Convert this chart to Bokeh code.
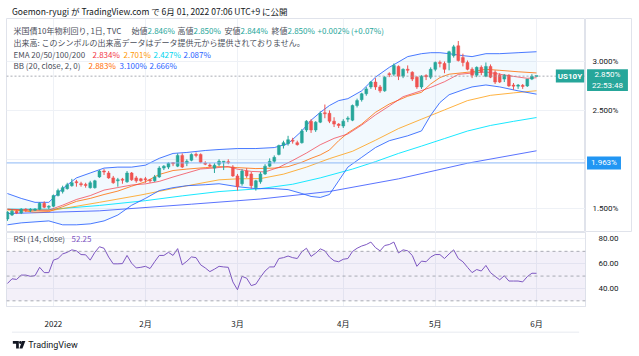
import numpy as np
from bokeh.plotting import figure
from bokeh.layouts import column, row
from bokeh.models import (Range1d, FixedTicker, PrintfTickFormatter, Label, Span,
                          ColumnDataSource, BoxAnnotation)
from bokeh.core.properties import value
from bokeh.embed import file_html
from bokeh.resources import INLINE

# ---------------- data ----------------
bar_index = list(range(116))
opens = [1.39, 1.43, 1.47, 1.45, 1.485, 1.478, 1.48, 1.49, 1.55, 1.51,
         1.52, 1.63, 1.67, 1.70, 1.73, 1.77, 1.75, 1.735, 1.71, 1.71,
         1.82, 1.88, 1.86, 1.81, 1.78, 1.79, 1.77, 1.86, 1.81, 1.80,
         1.80, 1.79, 1.78, 1.82, 1.91, 1.92, 1.96, 1.93, 2.04, 1.96,
         1.99, 2.05, 2.05, 1.96, 1.94, 1.91, 1.95, 1.97, 1.97, 1.92,
         1.83, 1.75, 1.88, 1.85, 1.71, 1.77, 1.85, 1.93, 1.98, 2.05,
         2.14, 2.16, 2.19, 2.17, 2.17, 2.30, 2.39, 2.30, 2.38, 2.47,
         2.47, 2.39, 2.36, 2.34, 2.41, 2.40, 2.55, 2.61, 2.67, 2.74,
         2.79, 2.74, 2.70, 2.87, 2.87, 2.95, 2.85, 2.92, 2.89, 2.84,
         2.74, 2.85, 2.84, 2.92, 2.99, 2.98, 2.99, 3.06, 3.16, 3.04,
         2.99, 2.92, 2.86, 2.94, 2.85, 2.95, 2.89, 2.86, 2.82, 2.86,
         2.752, 2.748, 2.755, 2.75, 2.82, 2.846]
highs = [1.47, 1.49, 1.48, 1.50, 1.50, 1.50, 1.50, 1.56, 1.57, 1.53,
         1.64, 1.70, 1.73, 1.76, 1.80, 1.79, 1.77, 1.76, 1.78, 1.79,
         1.89, 1.90, 1.88, 1.83, 1.81, 1.81, 1.88, 1.87, 1.83, 1.81,
         1.82, 1.80, 1.84, 1.93, 1.94, 1.97, 1.97, 2.06, 2.06, 2.00,
         2.06, 2.07, 2.06, 1.98, 1.96, 1.96, 2.00, 1.98, 2.00, 1.94,
         1.85, 1.90, 1.91, 1.87, 1.79, 1.87, 1.95, 2.01, 2.04, 2.15,
         2.19, 2.24, 2.22, 2.19, 2.31, 2.40, 2.41, 2.39, 2.49, 2.56,
         2.50, 2.43, 2.37, 2.41, 2.44, 2.56, 2.62, 2.68, 2.74, 2.80,
         2.83, 2.76, 2.85, 2.89, 2.98, 2.96, 2.93, 2.96, 2.90, 2.85,
         2.86, 2.87, 2.94, 3.00, 3.01, 3.00, 3.11, 3.17, 3.21, 3.08,
         3.01, 2.94, 2.95, 2.96, 2.99, 2.97, 2.91, 2.88, 2.87, 2.87,
         2.78, 2.77, 2.77, 2.82, 2.87, 2.850]
lows = [1.37, 1.42, 1.44, 1.44, 1.46, 1.46, 1.47, 1.48, 1.50, 1.49,
        1.51, 1.62, 1.65, 1.69, 1.72, 1.72, 1.72, 1.71, 1.70, 1.70,
        1.81, 1.84, 1.80, 1.75, 1.72, 1.75, 1.76, 1.78, 1.76, 1.77,
        1.76, 1.76, 1.77, 1.81, 1.89, 1.90, 1.93, 1.92, 1.91, 1.93,
        1.98, 2.02, 1.96, 1.94, 1.92, 1.86, 1.93, 1.89, 1.95, 1.82,
        1.68, 1.73, 1.81, 1.70, 1.68, 1.75, 1.84, 1.92, 1.96, 2.04,
        2.11, 2.14, 2.16, 2.14, 2.16, 2.28, 2.27, 2.28, 2.37, 2.42,
        2.37, 2.33, 2.32, 2.32, 2.38, 2.39, 2.53, 2.59, 2.65, 2.72,
        2.71, 2.68, 2.69, 2.84, 2.85, 2.81, 2.83, 2.88, 2.80, 2.72,
        2.72, 2.81, 2.82, 2.90, 2.94, 2.88, 2.91, 3.04, 3.00, 2.95,
        2.91, 2.83, 2.84, 2.86, 2.84, 2.83, 2.77, 2.78, 2.79, 2.74,
        2.71, 2.72, 2.72, 2.74, 2.81, 2.844]
closes = [1.46, 1.47, 1.45, 1.49, 1.478, 1.482, 1.49, 1.55, 1.51, 1.52,
          1.63, 1.68, 1.71, 1.74, 1.76, 1.76, 1.74, 1.732, 1.76, 1.78,
          1.88, 1.87, 1.81, 1.76, 1.79, 1.786, 1.86, 1.79, 1.78, 1.78,
          1.79, 1.78, 1.82, 1.91, 1.93, 1.96, 1.955, 2.04, 1.92, 1.98,
          2.05, 2.04, 1.97, 1.95, 1.93, 1.94, 1.98, 1.975, 1.965, 1.83,
          1.72, 1.88, 1.83, 1.73, 1.78, 1.85, 1.93, 1.98, 2.02, 2.14,
          2.17, 2.20, 2.185, 2.15, 2.29, 2.39, 2.30, 2.38, 2.47, 2.465,
          2.39, 2.36, 2.345, 2.39, 2.42, 2.55, 2.60, 2.67, 2.72, 2.79,
          2.74, 2.70, 2.84, 2.865, 2.96, 2.85, 2.92, 2.91, 2.82, 2.74,
          2.85, 2.845, 2.92, 2.99, 2.98, 2.92, 3.10, 3.15, 3.01, 2.99,
          2.92, 2.86, 2.94, 2.89, 2.95, 2.84, 2.79, 2.79, 2.86, 2.75,
          2.748, 2.752, 2.745, 2.82, 2.848, 2.850]
rsi14 = [44.0, 47.8, 47.3, 50.8, 50.8, 49.8, 50.3, 57.1, 52.8, 52.8,
         62.9, 64.2, 67.9, 69.2, 71.2, 70.4, 67.4, 67.2, 62.9, 69.2,
         73.7, 72.5, 65.4, 59.9, 59.9, 60.1, 66.7, 60.4, 56.6, 57.1,
         57.9, 56.1, 61.6, 66.7, 66.7, 69.2, 66.7, 72.2, 59.1, 62.0,
         65.5, 64.9, 59.1, 56.6, 53.6, 55.6, 57.9, 57.4, 57.1, 45.3,
         39.0, 49.8, 48.3, 42.3, 43.5, 49.1, 54.1, 57.4, 57.4, 64.2,
         64.9, 66.2, 64.9, 64.2, 69.7, 72.5, 65.9, 68.5, 72.0, 70.4,
         65.4, 62.4, 61.6, 63.6, 64.2, 69.9, 72.5, 74.3, 75.5, 77.5,
         73.0, 70.4, 74.7, 75.5, 77.5, 68.7, 71.2, 70.4, 66.7, 57.9,
         62.1, 61.6, 65.4, 67.4, 67.4, 64.2, 67.9, 71.2, 64.2, 61.6,
         57.1, 52.8, 55.3, 54.1, 58.6, 52.8, 49.8, 47.0, 50.3, 46.0,
         46.0, 46.0, 45.3, 49.6, 52.3, 52.25]

bb_idx = [0, 3, 6, 9, 12, 15, 18, 21, 24, 27, 30, 33, 36, 39, 43, 46, 50, 54, 58, 61,
          64, 66, 68, 70, 72, 74, 77, 80, 83, 87, 90, 92, 94, 96, 99, 101, 104, 107, 111, 115]
bb_upper = [1.65, 1.60, 1.56, 1.56, 1.70, 1.81, 1.86, 1.91, 1.92, 1.92, 1.94, 2.01, 2.06, 2.07, 2.09, 2.10, 2.11, 2.11, 2.12, 2.16,
            2.29, 2.40, 2.48, 2.55, 2.60, 2.62, 2.70, 2.84, 2.94, 3.05, 3.08, 3.09, 3.09, 3.08, 3.06, 3.05, 3.08, 3.08, 3.09, 3.100]
bb_lower = [1.33, 1.35, 1.36, 1.37, 1.33, 1.33, 1.34, 1.37, 1.43, 1.53, 1.60, 1.68, 1.71, 1.73, 1.74, 1.75, 1.72, 1.70, 1.70, 1.69,
            1.65, 1.62, 1.61, 1.64, 1.78, 1.92, 2.02, 2.12, 2.19, 2.24, 2.29, 2.45, 2.58, 2.66, 2.71, 2.74, 2.76, 2.74, 2.70, 2.666]
bb_basis = [1.49, 1.475, 1.46, 1.465, 1.515, 1.57, 1.60, 1.64, 1.675, 1.725, 1.77, 1.845, 1.885, 1.90, 1.915, 1.925, 1.915, 1.905, 1.91, 1.925,
            1.97, 2.01, 2.045, 2.095, 2.19, 2.27, 2.36, 2.48, 2.565, 2.645, 2.685, 2.77, 2.835, 2.87, 2.885, 2.895, 2.92, 2.91, 2.895, 2.883]

ema20_idx = [0, 3, 6, 9, 12, 15, 18, 21, 24, 27, 30, 33, 36, 39, 42, 45, 48, 50, 53, 56,
             59, 62, 65, 68, 71, 74, 77, 80, 83, 86, 89, 92, 95, 98, 101, 104, 107, 110, 113, 115]
ema20 = [1.49, 1.485, 1.48, 1.48, 1.531, 1.589, 1.629, 1.685, 1.711, 1.737, 1.749, 1.774, 1.819, 1.860, 1.901, 1.911, 1.927, 1.899, 1.876, 1.871,
         1.918, 1.988, 2.064, 2.149, 2.214, 2.259, 2.350, 2.454, 2.545, 2.640, 2.686, 2.735, 2.793, 2.868, 2.882, 2.893, 2.870, 2.848, 2.828, 2.834]
ema50_idx = [0, 10, 20, 29, 38, 46, 50, 55, 60, 65, 70, 75, 80, 85, 90, 95, 100, 105, 110, 115]
ema50 = [1.48, 1.48, 1.56, 1.635, 1.72, 1.79, 1.80, 1.803, 1.848, 1.92, 2.007, 2.082, 2.195, 2.314, 2.41, 2.505, 2.60, 2.654, 2.679, 2.701]
ema100_idx = [0, 10, 20, 30, 38, 46, 55, 62, 68, 75, 80, 85, 90, 95, 100, 105, 110, 115]
ema100 = [1.49, 1.49, 1.528, 1.577, 1.626, 1.67, 1.70, 1.745, 1.81, 1.90, 1.976, 2.06, 2.135, 2.212, 2.289, 2.346, 2.388, 2.427]
ema200_idx = [0, 20, 40, 55, 70, 85, 100, 115]
ema200 = [1.445, 1.473, 1.541, 1.594, 1.671, 1.80, 1.96, 2.087]

month_ticks = [10, 30, 50, 73, 93, 115]
month_labels = ["2022", "2月", "3月", "4月", "5月", "6月"]
price_ticks = [1.5, 2.0, 2.5, 3.0]
rsi_ticks = [40, 60, 80]
rsi_levels = [30, 50, 70]
marked_level = 1.963
countdown = "22:53:48"
symbol = "US10Y"
change_abs = 0.002
change_pct = 0.07

# ---------------- styles ----------------
JP = "Noto Sans CJK JP"
LAT = "Roboto"
UP = "#26A69A"
DN = "#EF5350"
GRID = "#EEF1F6"
BORDER = "#E0E3EB"
TXT = "#131722"
LEG = "#4A4E59"

has_padding = "padding" in Label.properties()


def base_fig(**kw):
    f = figure(toolbar_location=None, output_backend="svg", **kw)
    f.background_fill_color = "white"
    f.border_fill_color = "white"
    return f


def set_pad(l, h, v):
    if not has_padding:
        return
    for val in (dict(left=h, right=h, top=v, bottom=v), (v, h), max(h, v)):
        try:
            l.padding = val
            return
        except Exception:
            continue


def lab(p, text, x, y, color, font=JP, size="8px", pad=None, units="screen", **kw):
    l = Label(x=x, y=y, x_units=units, y_units=units, text=text,
              text_color=color, text_font=font, text_font_size=size,
              text_baseline="middle", **kw)
    if pad is not None:
        set_pad(l, *pad)
    p.add_layout(l)
    return l


# ---------------- header ----------------
p0 = base_fig(width=639, height=18, x_range=Range1d(0, 639), y_range=Range1d(18, 0),
              x_axis_location=None, y_axis_location=None,
              min_border_left=0, min_border_right=0, min_border_top=0, min_border_bottom=0)
p0.outline_line_color = None
p0.grid.visible = False
p0.text(x=[6], y=[10], text=["Goemon-ryugi が TradingView.com で 6月 01, 2022 07:06 UTC+9 に公開"],
        text_font=value(JP), text_font_size="8.5px", text_color=TXT, text_baseline="middle")

# ---------------- main pane ----------------
xr = Range1d(-0.2, 125.65)
yr = Range1d(1.2515, 3.4397)
p1 = base_fig(width=585, height=214, x_range=xr, y_range=yr,
              x_axis_location=None, y_axis_location=None,
              min_border_left=6, min_border_right=0, min_border_top=0, min_border_bottom=0)
p1.outline_line_color = BORDER
p1.xgrid.ticker = FixedTicker(ticks=month_ticks)
p1.ygrid.ticker = FixedTicker(ticks=price_ticks)
p1.grid.grid_line_color = GRID

p1.varea(x=bb_idx, y1=bb_lower, y2=bb_upper, fill_color="#2196F3", fill_alpha=0.06)
p1.add_layout(Span(location=marked_level, dimension="width", line_color="#8DB9F6", line_width=1))
p1.line(ema200_idx, ema200, line_color="#3D5AFE", line_width=1, line_alpha=0.85)
p1.line(ema100_idx, ema100, line_color="#00E5FF", line_width=1, line_alpha=0.9)
p1.line(ema50_idx, ema50, line_color="#FF9800", line_width=1, line_alpha=0.75)
p1.line(bb_idx, bb_upper, line_color="#2962FF", line_width=1, line_alpha=0.85)
p1.line(bb_idx, bb_lower, line_color="#2962FF", line_width=1, line_alpha=0.85)
p1.line(bb_idx, bb_basis, line_color="#FF6D00", line_width=1, line_alpha=0.8)
p1.line(ema20_idx, ema20, line_color="#F23645", line_width=1, line_alpha=0.7)
p1.add_layout(Span(location=closes[-1], dimension="width", line_color="#9598A1",
                   line_width=1, line_dash="2 2", line_alpha=0.8))

o = np.array(opens)
c = np.array(closes)
colors = np.where(c >= o, UP, DN)
top = np.maximum(o, c)
bot = np.minimum(o, c)
top = np.where(top - bot < 0.011, bot + 0.011, top)
src = ColumnDataSource(dict(x=bar_index, top=top, bottom=bot, high=highs, low=lows, color=colors))
p1.segment(x0="x", y0="low", x1="x", y1="high", line_color="color", line_width=1, source=src)
p1.vbar(x="x", width=0.62, top="top", bottom="bottom", fill_color="color",
        line_color="color", line_width=0.5, source=src)


def p1lab(text, X, Y, color, **kw):
    return lab(p1, text, X - 6, 232 - Y, color, **kw)


p1lab("米国債10年物利回り, 1日, TVC", 13, 29.5, LEG)
p1lab("始値", 131, 29.5, LEG)
p1lab(f"{opens[-1]:.3f}%", 147, 29.5, UP)
p1lab("高値", 177, 29.5, LEG)
p1lab(f"{highs[-1]:.3f}%", 193, 29.5, UP)
p1lab("安値", 224, 29.5, LEG)
p1lab(f"{lows[-1]:.3f}%", 240, 29.5, UP)
p1lab("終値", 271, 29.5, LEG)
p1lab(f"{closes[-1]:.3f}%", 287, 29.5, UP)
p1lab(f"+{change_abs:.3f}% (+{change_pct:.2f}%)", 317, 29.5, UP)
p1lab("出来高: このシンボルの出来高データはデータ提供元から提供されておりません。", 13, 42, LEG)
p1lab("EMA 20/50/100/200", 13, 53.5, LEG)
p1lab(f"{ema20[-1]:.3f}%", 92, 53.5, "#F23645")
p1lab(f"{ema50[-1]:.3f}%", 123, 53.5, "#FF9800")
p1lab(f"{ema100[-1]:.3f}%", 153, 53.5, "#00D5EF")
p1lab(f"{ema200[-1]:.3f}%", 183, 53.5, "#2962FF")
p1lab("BB (20, close, 2, 0)", 13, 65, LEG)
p1lab(f"{bb_basis[-1]:.3f}%", 88, 65, "#FF6D00")
p1lab(f"{bb_upper[-1]:.3f}%", 119, 65, "#2962FF")
p1lab(f"{bb_lower[-1]:.3f}%", 149, 65, "#2962FF")
p1lab(symbol, 569.5, 75.5, "white", font=LAT, size="8px", text_align="center",
      text_font_style="bold", background_fill_color=UP, background_fill_alpha=1.0, pad=(2, 2))

# ---------------- price scale (right of the main pane) ----------------
p1b = base_fig(width=47, height=214, x_range=Range1d(0, 47), y_range=yr,
               x_axis_location=None, y_axis_location=None,
               min_border_left=0, min_border_right=0, min_border_top=0, min_border_bottom=0)
p1b.outline_line_color = BORDER
p1b.grid.visible = False
p1b.text(x=[7] * len(price_ticks), y=price_ticks, text=[f"{t:.3f}%" for t in price_ticks],
         text_font=value(LAT), text_font_size="8px", text_color=TXT, text_baseline="middle")
lab(p1b, f"{closes[-1]:.3f}%\n{countdown}", 22, closes[-1], "white", font=LAT, size="8px",
    units="data", y_offset=-4, text_align="center", background_fill_color=UP,
    background_fill_alpha=1.0, pad=(5, 1))
lab(p1b, f"{marked_level:.3f}%", 18.5, marked_level, "white", font=LAT, size="8px",
    units="data", text_align="center", background_fill_color="#2196F3",
    background_fill_alpha=1.0, pad=(4, 2))

# ---------------- RSI pane ----------------
p2 = base_fig(width=639, height=99, x_range=xr, y_range=Range1d(25.42, 85.23),
              y_axis_location="right", x_axis_location="below",
              min_border_left=6, min_border_right=54, min_border_top=0, min_border_bottom=19)
p2.outline_line_color = BORDER
p2.xgrid.ticker = FixedTicker(ticks=month_ticks)
p2.ygrid.ticker = FixedTicker(ticks=rsi_ticks)
p2.grid.grid_line_color = GRID
ry = p2.yaxis[0]
ry.ticker = FixedTicker(ticks=rsi_ticks)
ry.formatter = PrintfTickFormatter(format="%.2f")
ry.major_label_text_font = LAT
ry.major_label_text_font_size = "8px"
ry.major_label_text_color = TXT
ry.major_tick_line_color = None
ry.minor_tick_line_color = None
ry.axis_line_color = BORDER
ry.major_label_standoff = 7
rx = p2.xaxis[0]
rx.ticker = FixedTicker(ticks=month_ticks)
rx.major_label_overrides = {t: s for t, s in zip(month_ticks, month_labels)}
rx.major_label_text_font = JP
rx.major_label_text_font_size = "8px"
rx.major_label_text_color = TXT
rx.major_tick_line_color = None
rx.minor_tick_line_color = None
rx.axis_line_color = BORDER
rx.major_label_standoff = 5

p2.add_layout(BoxAnnotation(bottom=rsi_levels[0], top=rsi_levels[-1], fill_color="#7E57C2",
                            fill_alpha=0.09, line_color=None))
for lv in rsi_levels:
    p2.add_layout(Span(location=lv, dimension="width", line_color="#9598A1",
                       line_width=1, line_dash="3 3", line_alpha=0.8))
p2.line(bar_index, rsi14, line_color="#7E57C2", line_width=1)
lab(p2, "RSI (14, close)", 13 - 6, 312 - 244, LEG)
lab(p2, f"{rsi14[-1]:.2f}", 71 - 6, 312 - 244, "#7E57C2")

# ---------------- footer ----------------
p3 = base_fig(width=639, height=25, x_range=Range1d(0, 639), y_range=Range1d(25, 0),
              x_axis_location=None, y_axis_location=None,
              min_border_left=0, min_border_right=0, min_border_top=0, min_border_bottom=0)
p3.outline_line_color = None
p3.grid.visible = False
p3.segment(x0=[6], y0=[0.5], x1=[632], y1=[0.5], line_color=BORDER, line_width=1)
p3.patch([7, 13.6, 13.6, 10.6, 10.6, 7], [9.5, 9.5, 17, 17, 12.3, 12.3], fill_color="#131722", line_color=None)
p3.scatter([15.4], [11.0], size=2.8, fill_color="#131722", line_color=None)
p3.patch([17.2, 20.8, 17.6, 14.2], [9.5, 9.5, 17, 17], fill_color="#131722", line_color=None)
p3.text(x=[24], y=[13], text=["TradingView"], text_font=value(LAT), text_font_size="9px",
        text_color=TXT, text_baseline="middle")

layout = column(p0, row(p1, p1b, spacing=0), p2, p3, spacing=0)
open("out.html", "w").write(file_html(layout, INLINE))
